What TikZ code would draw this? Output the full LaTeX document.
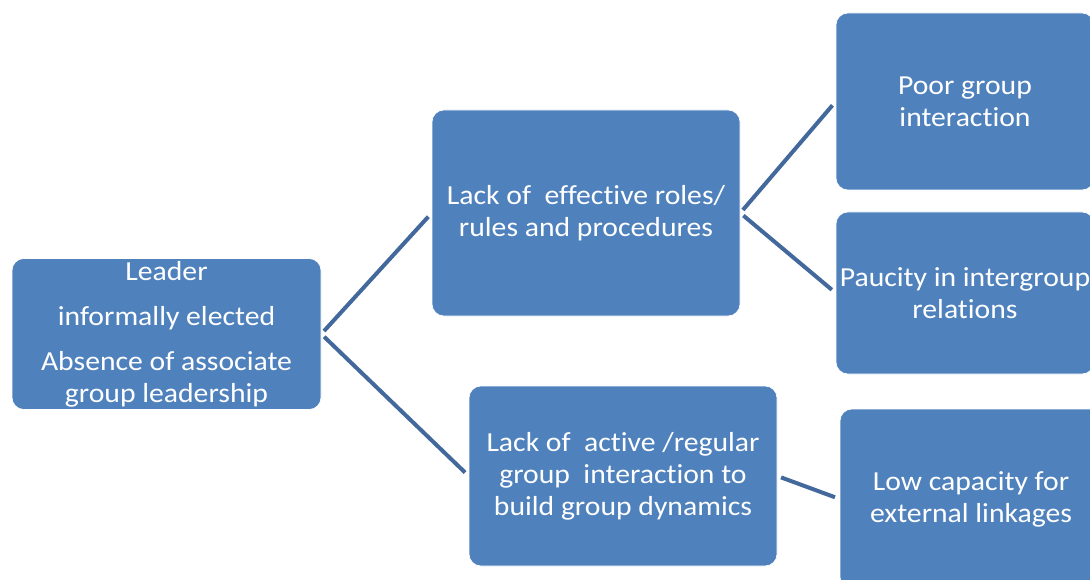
\documentclass[tikz,border=0pt]{standalone}
\usepackage{fontspec}
\setmainfont{Carlito}[Ligatures=NoCommon, FakeStretch=1.08]

\definecolor{boxblu}{RGB}{79,129,189}
\definecolor{lineablu}{RGB}{66,104,156}

\begin{document}
\begin{tikzpicture}[x=1pt,y=-1pt]
\tikzstyle{box} = [fill=boxblu, draw=white, line width=0.6pt, rounded corners=12pt, text=white, align=center, inner sep=0, font=\fontsize{27.5}{32}\selectfont]
\tikzstyle{link} = [draw=lineablu, line width=4pt, shorten <=4pt, shorten >=5pt]

\useasboundingbox (0,0) rectangle (1090,580);

% Riquadri
\node[box, minimum width=309pt, minimum height=151pt] (lead) at (166.5,334) {Leader\\[13pt]informally elected\\[13pt]Absence of associate\\group leadership};
\node[box, minimum width=308pt, minimum height=206pt] (roles) at (586,213) {Lack of\ \ effective roles/\\rules and procedures};
\node[box, minimum width=308pt, minimum height=180pt] (active) at (623,476) {Lack of\ \ active /regular\\group\ \ interaction to\\build group dynamics};
\node[box, minimum width=258pt, minimum height=177pt] (poor) at (965,101.5) {Poor group\\interaction};
\node[box, minimum width=258pt, minimum height=162pt] (paucity) at (965,293) {Paucity in intergroup\\relations};
\node[box, minimum width=262pt, minimum height=180pt] (low) at (971,499) {Low capacity for\\external linkages};

% Collegamenti
\foreach \a/\b in {lead/roles, lead/active, roles/poor, roles/paucity, active/low} {
  \draw[link] (\a.east) -- (\b.west);
}

\end{tikzpicture}
\end{document}
